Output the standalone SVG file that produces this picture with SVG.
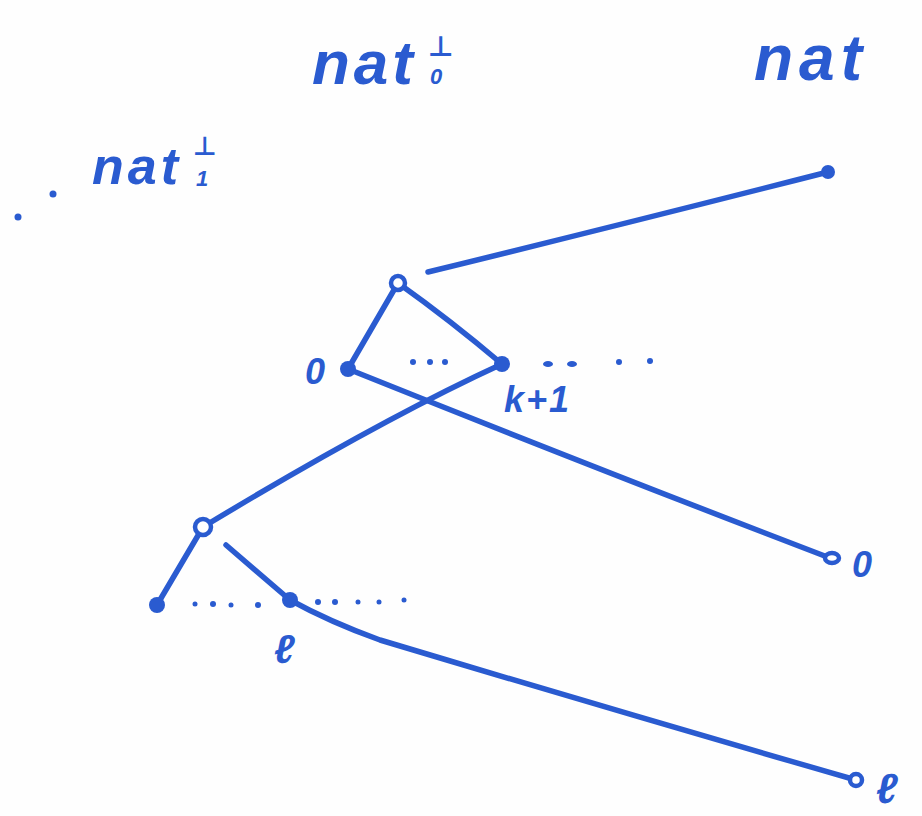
<svg xmlns="http://www.w3.org/2000/svg" width="922" height="816" viewBox="0 0 922 816">
<style>
.t{font-family:"Liberation Sans","DejaVu Sans",sans-serif;font-weight:bold;font-style:italic;fill:#2a5bd0}
.e{stroke:#2a5bd0;stroke-width:5.5;fill:none;stroke-linecap:round}
.f{fill:#2a5bd0}
.o{fill:#fff;stroke:#2a5bd0;stroke-width:4.5}
.d{fill:#2a5bd0}
</style>
<rect width="922" height="816" fill="#fefefe"/>
<g id="labels">
<text class="t" x="312" y="84" font-size="62" letter-spacing="4">nat</text>
<text class="t" x="428" y="56" font-size="28">⊥</text>
<text class="t" x="430" y="84" font-size="22">0</text>
<text class="t" x="754" y="80" font-size="64" letter-spacing="6">nat</text>
<text class="t" x="92" y="184" font-size="52" letter-spacing="4">nat</text>
<text class="t" x="193" y="155" font-size="26">⊥</text>
<text class="t" x="196" y="186" font-size="22">1</text>
<circle class="d" cx="18" cy="217" r="3.5"/>
<circle class="d" cx="53" cy="194" r="3.5"/>
</g>
<g id="edges">
<path class="e" d="M428,272 Q620,225 828,172"/>
<path class="e" d="M398,283 L348,369"/>
<path class="e" d="M398,283 Q450,320 502,364"/>
<path class="e" d="M348,369 Q600,470 830,558"/>
<path class="e" d="M502,364 Q380,420 203,527"/>
<path class="e" d="M203,527 L157,605"/>
<path class="e" d="M226,545 L290,600"/>
<path class="e" d="M290,600 Q330,622 380,640 Q620,712 856,780"/>
</g>
<g id="dots">
<circle class="d" cx="413" cy="362" r="3"/><circle class="d" cx="430" cy="362" r="3"/><circle class="d" cx="445" cy="362" r="3"/>
<ellipse class="d" cx="548" cy="364" rx="5" ry="3"/><ellipse class="d" cx="572" cy="364" rx="5" ry="3"/>
<circle class="d" cx="619" cy="362" r="3"/><circle class="d" cx="650" cy="361" r="3"/>
<circle class="d" cx="195" cy="604" r="2.5"/><circle class="d" cx="213" cy="604" r="3"/><circle class="d" cx="231" cy="605" r="2.5"/><circle class="d" cx="258" cy="605" r="3"/>
<circle class="d" cx="318" cy="602" r="3"/><circle class="d" cx="335" cy="602" r="3"/><circle class="d" cx="358" cy="602" r="2.5"/><circle class="d" cx="379" cy="602" r="2.5"/><circle class="d" cx="404" cy="600" r="2.5"/>
</g>
<g id="n_nat"><circle class="f" cx="828" cy="172" r="7"/></g>
<g id="n_bot0"><circle class="o" cx="398" cy="283" r="7"/></g>
<g id="n_0a"><circle class="f" cx="348" cy="369" r="8"/><text class="t" x="305" y="384" font-size="36">0</text></g>
<g id="n_k1"><circle class="f" cx="502" cy="364" r="8"/><text class="t" x="504" y="412" font-size="36" letter-spacing="2">k+1</text></g>
<g id="n_bot1"><circle class="o" cx="203" cy="527" r="8"/></g>
<g id="n_0b"><circle class="f" cx="157" cy="605" r="8"/></g>
<g id="n_l"><circle class="f" cx="290" cy="600" r="8"/><text class="t" x="274" y="663" font-size="40">ℓ</text></g>
<g id="n_0c"><ellipse class="o" cx="832" cy="558" rx="7" ry="5"/><text class="t" x="852" y="577" font-size="36">0</text></g>
<g id="n_lc"><circle class="o" cx="856" cy="780" r="6"/><text class="t" x="876" y="803" font-size="42">ℓ</text></g>
</svg>
